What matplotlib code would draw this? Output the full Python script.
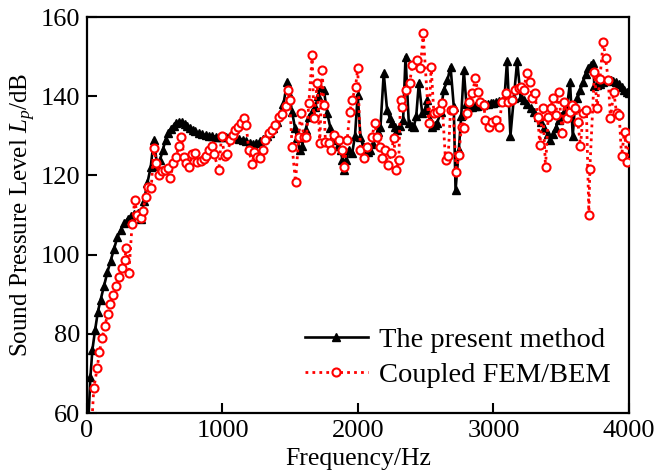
import numpy as np
import matplotlib
matplotlib.use("Agg")
import matplotlib.pyplot as plt

plt.rcParams['font.family'] = ['Liberation Serif', 'DejaVu Serif']
plt.rcParams['mathtext.fontset'] = 'custom'
plt.rcParams['mathtext.rm'] = 'Liberation Serif'
plt.rcParams['mathtext.it'] = 'Liberation Serif:italic'

# The present method (frequency in Hz, level in dB)
f_present = [10, 25, 40, 60, 80, 100, 125, 150, 175, 200, 225, 250, 275, 300, 325, 350, 375, 400,
             420, 445, 470, 493, 518, 540, 560, 580, 600, 620, 640, 660, 680, 700, 720, 740, 760,
             780, 800, 825, 850, 875, 900, 925, 950, 975, 1000, 1025, 1050, 1075, 1100, 1125,
             1150, 1175, 1200, 1225, 1250, 1275, 1300, 1325, 1350, 1375, 1400, 1425, 1450, 1477,
             1495, 1514, 1535, 1551, 1570, 1588, 1613, 1637, 1660, 1686, 1705, 1723, 1748, 1773,
             1797, 1815, 1834, 1855, 1871, 1885, 1900, 1915, 1932, 1957, 1978, 1998, 2018, 2036,
             2055, 2075, 2092, 2110, 2129, 2148, 2166, 2190, 2215, 2235, 2252, 2270, 2289, 2310,
             2333, 2351, 2375, 2395, 2412, 2430, 2449, 2474, 2493, 2511, 2530, 2547, 2565, 2584,
             2610, 2633, 2660, 2683, 2707, 2720, 2744, 2762, 2781, 2800, 2818, 2840, 2860, 2880,
             2900, 2920, 2940, 2960, 2980, 3000, 3020, 3040, 3060, 3080, 3100, 3125, 3150, 3175,
             3200, 3225, 3250, 3275, 3300, 3325, 3350, 3375, 3400, 3420, 3440, 3460, 3480, 3500,
             3520, 3545, 3565, 3585, 3600, 3620, 3640, 3660, 3680, 3700, 3720, 3735, 3745, 3765,
             3785, 3805, 3825, 3845, 3865, 3885, 3905, 3925, 3945, 3965, 3985, 4000]
L_present = [58, 69, 76, 81, 85.5, 88.5, 92, 95.5, 98.5, 101.5, 104.5, 106.2, 108, 109, 109.8, 110.2, 110.5, 109,
             113.5, 118, 122, 129, 122.5, 124, 126.5, 129, 130.8, 131.8, 132.6, 133.3, 133.6, 133.4, 133, 132.5, 132,
             131.5, 131.1, 130.7, 130.4, 130.2, 130, 129.9, 129.8, 129.8, 129.8, 129.8, 129.7, 129.6, 129.5, 129.3,
             129, 128.6, 128.2, 128, 128.1, 128.6, 129.3, 130, 130.8, 132, 133.5, 135.5, 138, 143.5,
             140, 136, 132, 129.5, 126.3, 127.5, 131.5, 134.8, 136, 137.4, 140, 142.4, 141.6, 135.7,
             131.9, 130, 128.9, 127.5, 126.4, 124, 121.4, 124, 126.4, 125.6, 130, 140.3, 129.8, 127.5,
             126.4, 126, 126.4, 128, 129.8, 131, 132.3, 145.8, 136.5, 134.5, 133.2, 132.3, 131.5, 132.5,
             134, 150, 133.2, 132.5, 132.3, 135, 143.3, 135.7, 136.5, 139, 134, 132.3, 132.8, 133.2,
             136, 141.6, 144, 147.5, 137.4, 116.3, 126.4, 135, 146.6, 138, 137.4, 137.4, 137.5, 137.6,
             137.8, 137.9, 138, 138.1, 138.3, 138.4, 138.5, 138.7, 138.8, 139, 149, 130, 139.5, 149,
             139.8, 139, 138, 137, 136, 134.8, 133.5, 132, 130.5, 129, 130.5, 132, 134, 135,
             136, 138, 143.5, 130, 137, 139.5, 141.5, 143.5, 145.5, 147, 148, 148.5, 142.5, 142.8,
             143.2, 143.5, 143.8, 144, 144, 143.8, 143.5, 143, 142.2, 141.5, 141, 140.8]

# Coupled FEM/BEM
f_fembem = [35, 50, 75, 92, 112, 131, 154, 173, 193, 215, 235, 255, 277, 291, 309, 333, 353, 370, 395,
            412, 432, 451, 474, 493, 513, 530, 555, 579, 598, 616, 636, 658, 678, 695, 715, 734, 756,
            776, 796, 813, 838, 862, 880, 904, 924, 936, 973, 993, 1015, 1035, 1059, 1079, 1096, 1113,
            1133, 1157, 1175, 1194, 1219, 1236, 1256, 1280, 1300, 1317, 1342, 1367, 1391, 1416, 1440,
            1470, 1482, 1495, 1514, 1539, 1563, 1576, 1600, 1620, 1637, 1662, 1674, 1699, 1718, 1736,
            1748, 1760, 1785, 1802, 1822, 1858, 1883, 1900, 1920, 1940, 1957, 1982, 1998, 2018, 2043,
            2068, 2105, 2122, 2142, 2161, 2179, 2203, 2220, 2245, 2264, 2284, 2301, 2314, 2326, 2358,
            2382, 2400, 2437, 2461, 2481, 2523, 2540, 2560, 2584, 2604, 2621, 2646, 2666, 2683, 2702,
            2725, 2744, 2764, 2781, 2806, 2823, 2843, 2867, 2884, 2904, 2928, 2941, 2965, 2990, 3015,
            3039, 3064, 3089, 3105, 3137, 3162, 3187, 3204, 3224, 3244, 3268, 3285, 3305, 3327, 3342,
            3364, 3384, 3404, 3421, 3440, 3458, 3482, 3507, 3524, 3544, 3563, 3581, 3605, 3622, 3642,
            3662, 3686, 3704, 3711, 3745, 3765, 3785, 3810, 3827, 3847, 3863, 3888, 3908, 3928, 3945,
            3967, 3987, 3999]
L_fembem = [57, 66.2, 71.3, 75.5, 78.9, 82, 85, 87.5, 89.8, 92, 94.4, 96.5, 98.6, 101.6, 95.3, 107.7, 113.8, 110, 109.2,
            111, 114.5, 117, 116.7, 127, 123.2, 120.1, 121.1, 121.4, 121.8, 119.3, 123.2, 124.7, 127.5, 129.8, 124.6, 123.1, 122,
            125.4, 125.7, 123.5, 123.7, 124.1, 124.9, 126.4, 127.4, 125.4, 121.4, 130, 124.9, 125.4, 128.9, 130.2, 131.5, 132.3,
            133.3, 134.4, 132.7, 126.4, 122.9, 126, 124.7, 124.3, 126.4, 128.9, 130.8, 131.5, 132.7, 134.8, 135.5,
            137.5, 141.6, 139, 127.2, 118.4, 129.8, 135.7, 129.8, 129.8, 138.2, 150.4, 134.4, 143.3, 128.1, 146.6,
            137.8, 128.5, 128.1, 126.4, 130.2, 128.9, 126.4, 122.2, 128.9, 136.1, 139, 142.4, 147, 126.4, 124.3,
            127.2, 129.8, 133.2, 129.8, 127.2, 124.3, 126.4, 122.6, 125.6, 129.4, 121.4, 124, 139, 137.4, 141.6,
            143.3, 147.9, 149.1, 147, 155.9, 133.2, 147.5, 135.7, 136.1, 136.5, 138.2, 123.9, 124.9, 136.5, 136.5,
            120.9, 125.2, 132.3, 131.9, 135.7, 138.6, 140.7, 144.5, 141.1, 138.6, 137.8, 134, 132.3, 133.6, 134,
            132.3, 138.6, 140.7, 138.6, 139, 141.6, 142, 142.4, 141.6, 145.8, 143.7, 139.5, 140.7, 134.8, 127.7,
            136.9, 122.2, 134.8, 136.9, 139.5, 135.3, 141.1, 130.6, 138.6, 134.4, 136.1, 137.8, 136.9, 133.6, 127.4,
            135.7, 136.4, 110, 121.5, 146.2, 136.9, 144.3, 153.8, 149.6, 144.1, 134.4, 141.1, 135.7, 135.3, 124.9,
            131, 123.5, 129.4]

x_ticks = [0, 1000, 2000, 3000, 4000]
y_ticks = [60, 80, 100, 120, 140, 160]

fig = plt.figure(figsize=(6.6, 4.71), dpi=100)
ax = fig.add_axes([0.1318, 0.1231, 0.8212, 0.8408])

ax.plot(f_present, L_present, color='black', lw=1.9, marker='^', ms=6.3,
        label='The present method', zorder=2)
ax.plot(f_fembem, L_fembem, color='red', lw=2, linestyle=(0, (1, 1.5)), marker='o', ms=5.8,
        mfc='white', mec='red', mew=1.5, label='Coupled FEM/BEM', zorder=3)

ax.set_xlim(0, 4000)
ax.set_ylim(60, 160)
ax.set_xticks(x_ticks)
ax.set_yticks(y_ticks)
ax.tick_params(direction='in', length=7, width=1.5, labelsize=19)
ax.tick_params(axis='x', pad=5)
ax.tick_params(axis='y', pad=5)
for s in ax.spines.values():
    s.set_linewidth(1.6)

ax.set_xlabel('Frequency/Hz', fontsize=18.5, labelpad=4)
ax.set_ylabel('Sound Pressure Level $L_p$/dB', fontsize=18, labelpad=2)

ax.legend(loc='lower right', bbox_to_anchor=(1.003, 0.014), frameon=False, fontsize=20.5,
          handlelength=2.2, handletextpad=0.4, labelspacing=0.3, borderpad=0.2)

fig.savefig('out.png', dpi=100)
